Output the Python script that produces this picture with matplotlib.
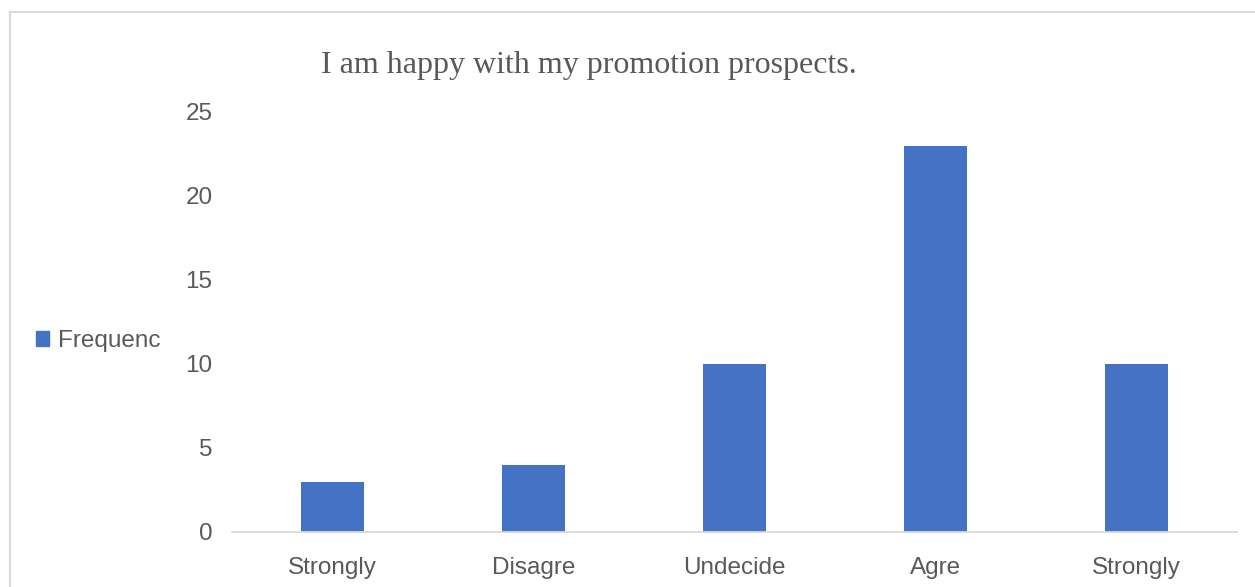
import matplotlib.pyplot as plt
from matplotlib.lines import Line2D
from matplotlib.patches import Patch

categories = ["Strongly", "Disagre", "Undecide", "Agre", "Strongly"]
frequency = [3, 4, 10, 23, 10]
y_ticks = [0, 5, 10, 15, 20, 25]

BAR_COLOR = "#4472C4"
TEXT_COLOR = "#595959"
LINE_COLOR = "#D9D9D9"

W, H = 1255, 587
fig = plt.figure(figsize=(W / 100, H / 100), dpi=100)

# chart area frame: only the top and left edges fall inside the image
fx, fy = 9.5 / W, 1 - 11.5 / H
fig.add_artist(Line2D([fx, 1.0], [fy, fy], transform=fig.transFigure,
                      color=LINE_COLOR, linewidth=1.5))
fig.add_artist(Line2D([fx, fx], [0.0, fy], transform=fig.transFigure,
                      color=LINE_COLOR, linewidth=1.5))

ax = fig.add_axes([232 / W, 55 / H, 1005 / W, 420 / H])
x = range(len(categories))
ax.bar(x, frequency, width=0.31, color=BAR_COLOR)

ax.set_xlim(-0.5, len(categories) - 0.5)
ax.set_ylim(0, 25)
ax.set_yticks(y_ticks)
ax.set_xticks(list(x))
ax.set_xticklabels(categories)

for side in ["top", "right", "left"]:
    ax.spines[side].set_visible(False)
ax.spines["bottom"].set_color(LINE_COLOR)
ax.spines["bottom"].set_linewidth(1.3)
ax.tick_params(axis="both", length=0, labelsize=17.5, labelcolor=TEXT_COLOR)
ax.tick_params(axis="y", pad=14)
ax.tick_params(axis="x", pad=18)
for lab in ax.get_xticklabels() + ax.get_yticklabels():
    lab.set_family("Liberation Sans")

fig.text(589 / W, 1 - 65 / H, "I am happy with my promotion prospects.",
         ha="center", va="center", fontsize=23, color=TEXT_COLOR,
         family="Liberation Serif")

fig.legend(handles=[Patch(color=BAR_COLOR, label="Frequenc")],
           loc="center left", bbox_to_anchor=(36 / W, 1 - 341 / H),
           frameon=False, handlelength=0.55, handleheight=0.55,
           handletextpad=0.35, borderaxespad=0, borderpad=0,
           prop={"family": "Liberation Sans", "size": 17.5},
           labelcolor=TEXT_COLOR)

fig.savefig("out.png", dpi=100)
